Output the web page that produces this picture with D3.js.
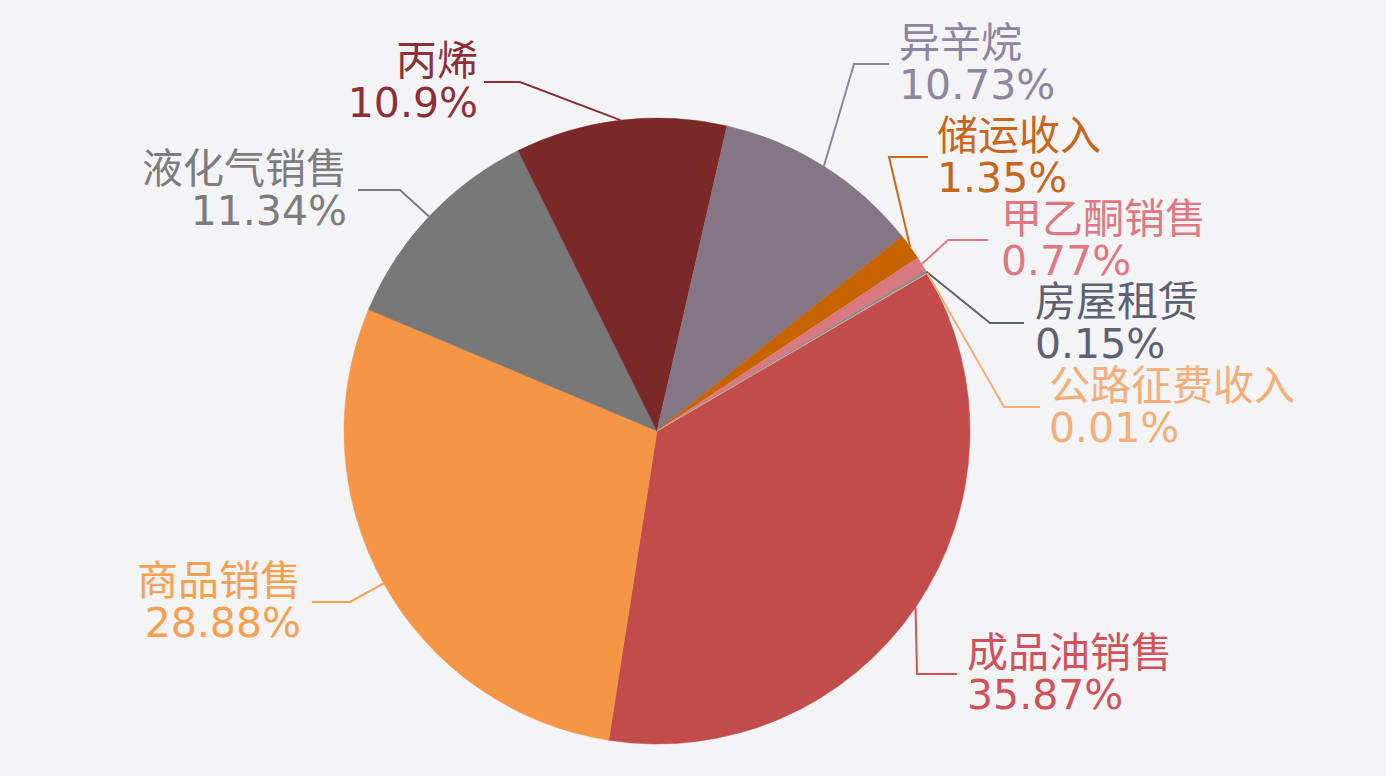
<!DOCTYPE html>
<html><head><meta charset="utf-8">
<script src="https://cdn.jsdelivr.net/npm/d3@7"></script>
<style>
html,body{margin:0;padding:0;background:#f4f3f6;}
svg{display:block;}
</style></head>
<body>
<svg id="chart" width="1386" height="776"></svg>
<script>
// ---- data ----
const categories = ["成品油销售","商品销售","液化气销售","丙烯","异辛烷","储运收入","甲乙酮销售","房屋租赁","公路征费收入"];
const shares = [35.87, 28.88, 11.34, 10.9, 10.73, 1.35, 0.77, 0.15, 0.01];
const shareLabels = ["35.87%","28.88%","11.34%","10.9%","10.73%","1.35%","0.77%","0.15%","0.01%"];

// ---- styles / layout ----
const sliceColors = ["#c24b4b","#f69545","#787878","#7a2828","#857685","#c86400","#d97a80","#8d8a98","#f4b07a"];
const textColors  = ["#d1525a","#f5a152","#7d7d7d","#8e2f37","#8e86a0","#c9661c","#e07882","#5d6171","#f5ae78"];
// elbow point, horizontal end, text anchor x, side
const labelLayout = [
  {ex:917, ey:674, hx:957, tx:967, side:"right"},
  {ex:350, ey:602, hx:312, tx:301, side:"left"},
  {ex:400, ey:190, hx:358, tx:347, side:"left"},
  {ex:520, ey:82,  hx:484, tx:478, side:"left"},
  {ex:854, ey:64,  hx:889, tx:899, side:"right"},
  {ex:889, ey:157, hx:928, tx:937, side:"right"},
  {ex:948, ey:240, hx:988, tx:1001, side:"right"},
  {ex:990, ey:323, hx:1024, tx:1035, side:"right"},
  {ex:1004,ey:407, hx:1040, tx:1049, side:"right"}
];

const cx = 657, cy = 431, R = 313;
const svg = d3.select("#chart");
const g = svg.append("g").attr("transform", `translate(${cx},${cy})`);

const data = categories.map((c,i)=>({name:c, value:shares[i], label:shareLabels[i], i}));
const start = 59.74*Math.PI/180;
const pie = d3.pie().value(d=>d.value).sort(null).startAngle(start).endAngle(start + 2*Math.PI);
const arcs = pie(data);
const arc = d3.arc().innerRadius(0).outerRadius(R);
const edge = d3.arc().innerRadius(R).outerRadius(R);

g.selectAll("path.slice").data(arcs).enter().append("path")
  .attr("class","slice")
  .attr("d", arc)
  .attr("fill", d=>sliceColors[d.data.i])
  .attr("stroke", d=>sliceColors[d.data.i])
  .attr("stroke-width", 0.5);

// leader lines and labels
const lines = svg.append("g");
arcs.forEach(a=>{
  const L = labelLayout[a.data.i];
  const [px,py] = edge.centroid(a);
  lines.append("polyline")
    .attr("points", `${cx+px},${cy+py} ${L.ex},${L.ey} ${L.hx},${L.ey}`)
    .attr("fill","none")
    .attr("stroke", textColors[a.data.i])
    .attr("stroke-width", 2);
  const t = svg.append("text")
    .attr("font-family", "'DejaVu Sans','Noto Sans CJK SC',sans-serif")
    .attr("font-size", 41)
    .attr("fill", textColors[a.data.i])
    .attr("text-anchor", L.side==="left" ? "end" : "start");
  t.append("tspan").attr("x", L.tx).attr("y", L.ey - 21).attr("dominant-baseline","central").text(a.data.name);
  t.append("tspan").attr("x", L.tx).attr("y", L.ey + 21).attr("dominant-baseline","central").text(a.data.label);
});
</script>
</body></html>
